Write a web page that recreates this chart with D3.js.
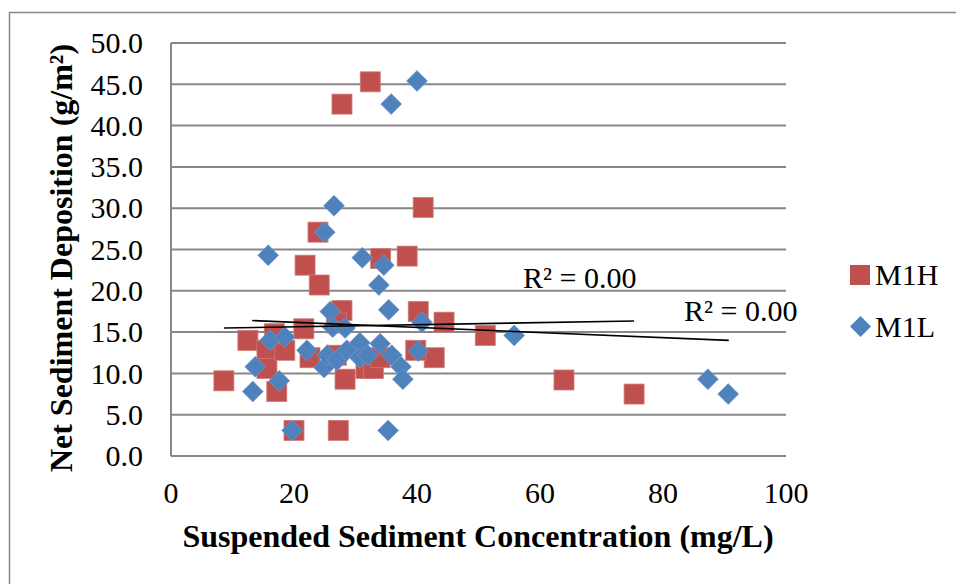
<!DOCTYPE html>
<html>
<head>
<meta charset="utf-8">
<script src="https://cdn.jsdelivr.net/npm/d3@7"></script>
<style>
  body { margin: 0; background: #fff; }
  svg { display: block; font-family: "Liberation Serif", "Times New Roman", serif; }
</style>
</head>
<body>
<div id="chart"></div>
<script>
// M1H series (red squares)
const m1hX = [32.4, 27.8, 41.0, 23.9, 34.1, 38.4, 21.8, 24.1, 27.8, 40.2, 44.4, 51.1, 21.6, 12.5, 8.6, 63.9, 75.3,
  17.2, 20.0, 27.2, 28.3, 42.8, 39.8, 15.6, 15.6, 18.5, 22.6, 26.9, 31.7, 32.9, 34.0, 16.8, 26.9]
const m1hY = [45.3, 42.6, 30.1, 27.1, 23.9, 24.2, 23.1, 20.7, 17.6, 17.5, 16.2, 14.6, 15.4, 14.0, 9.1, 9.2, 7.5,
  7.8, 3.1, 3.1, 9.3, 11.9, 12.8, 12.8, 10.6, 12.8, 11.9, 12.2, 10.6, 10.6, 11.9, 14.8, 16.1]

// M1L series (blue diamonds)
const m1lX = [40.0, 35.8, 26.5, 25.0, 15.8, 31.1, 34.6, 33.8, 25.9, 35.4, 40.8, 55.8, 87.3, 90.6, 19.7, 35.3, 13.3,
  17.6, 13.7, 16.1, 18.5, 22.1, 24.9, 25.4, 26.3, 28.3, 27.0, 28.6, 30.7, 30.7, 32.0, 34.0, 35.9, 37.4, 37.7, 40.2]
const m1lY = [45.4, 42.6, 30.3, 27.1, 24.3, 24.0, 23.1, 20.7, 17.5, 17.7, 16.2, 14.6, 9.3, 7.5, 3.1, 3.1, 7.8,
  9.1, 10.8, 14.0, 14.4, 12.8, 10.7, 12.2, 15.6, 15.5, 11.6, 12.8, 13.7, 11.9, 12.2, 13.6, 12.2, 10.8, 9.3, 12.7]

// linear trendlines: [intercept, slope, xStart, xEnd]
const trendM1H = [15.39, 0.0127, 8.6, 75.3]
const trendM1L = [16.81, -0.031, 13.2, 90.7]

const xTicks = [0, 20, 40, 60, 80, 100]
const yTicks = [0, 5, 10, 15, 20, 25, 30, 35, 40, 45, 50]
const seriesNames = ["M1H", "M1L"]
const r2Labels = ["R² = 0.00", "R² = 0.00"]

const width = 956
const height = 584
const red = "#C0504D"
const blue = "#4F81BD"
const gridColor = "#878787"

const svg = d3.select("#chart").append("svg")
  .attr("width", width)
  .attr("height", height)

// outer chart border
svg.append("rect")
  .attr("x", 9.5).attr("y", 12.5)
  .attr("width", 960).attr("height", 600)
  .attr("fill", "none")
  .attr("stroke", gridColor)
  .attr("stroke-width", 1.5)

const x = d3.scaleLinear().domain([0, 100]).range([171, 786])
const y = d3.scaleLinear().domain([0, 50]).range([456, 43])

// gridlines
svg.append("g")
  .selectAll("line")
  .data(yTicks)
  .join("line")
  .attr("x1", x(0)).attr("x2", x(100))
  .attr("y1", (d) => y(d)).attr("y2", (d) => y(d))
  .attr("stroke", gridColor)
  .attr("stroke-width", 2)

// y axis line
svg.append("line")
  .attr("x1", x(0)).attr("x2", x(0))
  .attr("y1", y(50)).attr("y2", y(0))
  .attr("stroke", gridColor)
  .attr("stroke-width", 2)

// y tick labels
svg.append("g")
  .selectAll("text")
  .data(yTicks)
  .join("text")
  .attr("x", 143)
  .attr("y", (d) => y(d))
  .attr("dy", "0.34em")
  .attr("text-anchor", "end")
  .attr("font-size", 30)
  .text((d) => d.toFixed(1))

// x tick labels
svg.append("g")
  .selectAll("text")
  .data(xTicks)
  .join("text")
  .attr("x", (d) => x(d))
  .attr("y", 503)
  .attr("text-anchor", "middle")
  .attr("font-size", 30)
  .text((d) => d)

// axis titles
svg.append("text")
  .attr("x", 478)
  .attr("y", 547)
  .attr("text-anchor", "middle")
  .attr("font-size", 32)
  .attr("font-weight", "bold")
  .text("Suspended Sediment Concentration (mg/L)")

svg.append("text")
  .attr("transform", "translate(72,258) rotate(-90)")
  .attr("text-anchor", "middle")
  .attr("font-size", 32)
  .attr("font-weight", "bold")
  .text("Net Sediment Deposition (g/m²)")

const diamond = (cx, cy, r) => `M${cx},${cy - r}L${cx + r},${cy}L${cx},${cy + r}L${cx - r},${cy}Z`

// M1H squares
svg.append("g")
  .selectAll("rect")
  .data(d3.range(m1hX.length))
  .join("rect")
  .attr("x", (i) => x(m1hX[i]) - 10)
  .attr("y", (i) => y(m1hY[i]) - 10)
  .attr("width", 20).attr("height", 20)
  .attr("fill", red)
  .attr("stroke", "#d07a77")
  .attr("stroke-width", 0.8)

// M1L diamonds
svg.append("g")
  .selectAll("path")
  .data(d3.range(m1lX.length))
  .join("path")
  .attr("d", (i) => diamond(x(m1lX[i]), y(m1lY[i]), 10.5))
  .attr("fill", blue)
  .attr("stroke", "#7aa0cf")
  .attr("stroke-width", 0.6)

// trendlines
const trends = [trendM1H, trendM1L]
svg.append("g")
  .selectAll("line")
  .data(trends)
  .join("line")
  .attr("x1", (t) => x(t[2]))
  .attr("y1", (t) => y(t[0] + t[1] * t[2]))
  .attr("x2", (t) => x(t[3]))
  .attr("y2", (t) => y(t[0] + t[1] * t[3]))
  .attr("stroke", "#000")
  .attr("stroke-width", 1.6)

// R² labels
const r2Pos = [[523, 288], [684, 321]]
svg.append("g")
  .selectAll("text")
  .data(r2Labels)
  .join("text")
  .attr("x", (d, i) => r2Pos[i][0])
  .attr("y", (d, i) => r2Pos[i][1])
  .attr("font-size", 30)
  .text((d) => d)

// legend
const legend = svg.append("g")
legend.append("rect")
  .attr("x", 850).attr("y", 265)
  .attr("width", 20).attr("height", 20)
  .attr("fill", red)
legend.append("path")
  .attr("d", diamond(860.5, 326.5, 10.5))
  .attr("fill", blue)
legend.selectAll("text")
  .data(seriesNames)
  .join("text")
  .attr("x", 875)
  .attr("y", (d, i) => (i === 0 ? 285 : 337))
  .attr("font-size", 30)
  .text((d) => d)
</script>
</body>
</html>
